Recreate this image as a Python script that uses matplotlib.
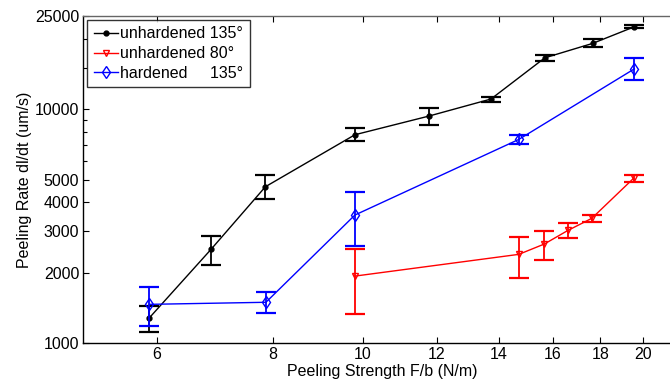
import numpy as np
import matplotlib
matplotlib.use("Agg")
import matplotlib.pyplot as plt
from matplotlib.ticker import NullFormatter, NullLocator

plt.rcParams['font.family'] = ['Liberation Sans', 'DejaVu Sans']

# unhardened 135 deg
x_u135 = [5.89, 6.86, 7.85, 9.80, 11.77, 13.73, 15.69, 17.67, 19.59]
y_u135 = [1283, 2513, 4656, 7768, 9333, 11040, 16560, 19100, 22490]
hi_u135 = [1443, 2865, 5237, 8262, 10093, 11290, 17110, 19910, 22900]
lo_u135 = [1117, 2153, 4110, 7293, 8550, 10680, 16070, 18450, 22180]

# unhardened 80 deg
x_u80 = [9.80, 14.71, 15.67, 16.62, 17.63, 19.55]
y_u80 = [1932, 2393, 2649, 3031, 3413, 5058]
hi_u80 = [2530, 2839, 3019, 3248, 3513, 5237]
lo_u80 = [1326, 1901, 2255, 2802, 3297, 4891]

# hardened 135 deg
x_h135 = [5.89, 7.86, 9.80, 14.71, 19.59]
y_h135 = [1463, 1493, 3524, 7419, 14860]
hi_h135 = [1730, 1647, 4434, 7741, 16470]
lo_h135 = [1182, 1348, 2588, 7114, 13300]

xticks = [6, 8, 10, 12, 14, 16, 18, 20]
yticks = [1000, 2000, 3000, 4000, 5000, 10000, 25000]
yminor = [6000, 7000, 8000, 9000, 15000, 20000]

fig = plt.figure(figsize=(6.7, 3.79), dpi=100)
ax = fig.add_axes([83.4 / 670, 36 / 379, 597.8 / 670, 327 / 379])
ax.set_xscale('log')
ax.set_yscale('log')

series = [
    (x_u135, y_u135, lo_u135, hi_u135, 'k', 'o', 'k', 3.5, 'unhardened 135°'),
    (x_u80, y_u80, lo_u80, hi_u80, 'r', 'v', 'none', 5, 'unhardened 80°'),
    (x_h135, y_h135, lo_h135, hi_h135, 'b', 'd', 'none', 6, 'hardened     135°'),
]

for xs, ys, lo, hi, col, mk, mfc, ms, lab in series:
    ys_a = np.array(ys)
    yerr = [ys_a - np.array(lo), np.array(hi) - ys_a]
    ax.errorbar(xs, ys, yerr=yerr, fmt='none', ecolor=col, elinewidth=1.3,
                capsize=7, capthick=1.6)
    ax.plot(xs, ys, color=col, lw=1.0, marker=mk, ms=ms, mfc=mfc, mec=col,
            mew=1.0, label=lab)

ax.set_xlim(5, 22)
ax.set_ylim(1000, 25000)

ax.set_xticks(xticks)
ax.set_xticklabels([str(t) for t in xticks])
ax.xaxis.set_minor_locator(NullLocator())
ax.set_yticks(yticks)
ax.set_yticklabels([str(t) for t in yticks])
ax.set_yticks(yminor, minor=True)
ax.yaxis.set_minor_formatter(NullFormatter())

ax.tick_params(which='both', direction='in', top=True, right=True,
               labelsize=11.5, pad=3)
ax.tick_params(which='major', length=4.5, width=0.8)
ax.tick_params(which='minor', length=3, width=0.8)
for sp in ax.spines.values():
    sp.set_linewidth(1.0)
ax.spines['top'].set_color('#666666')

ax.set_xlabel('Peeling Strength F/b (N/m)', fontsize=11.5, labelpad=1.5)
ax.set_ylabel('Peeling Rate dl/dt (um/s)', fontsize=11.5, labelpad=2)

leg = ax.legend(loc='upper left', fontsize=11.5, frameon=True, fancybox=False,
                edgecolor='k', borderaxespad=0.25, handlelength=1.5,
                handletextpad=0.15, labelspacing=0.3, borderpad=0.4)
leg.get_frame().set_linewidth(1.0)

fig.savefig('out.png', dpi=100)
